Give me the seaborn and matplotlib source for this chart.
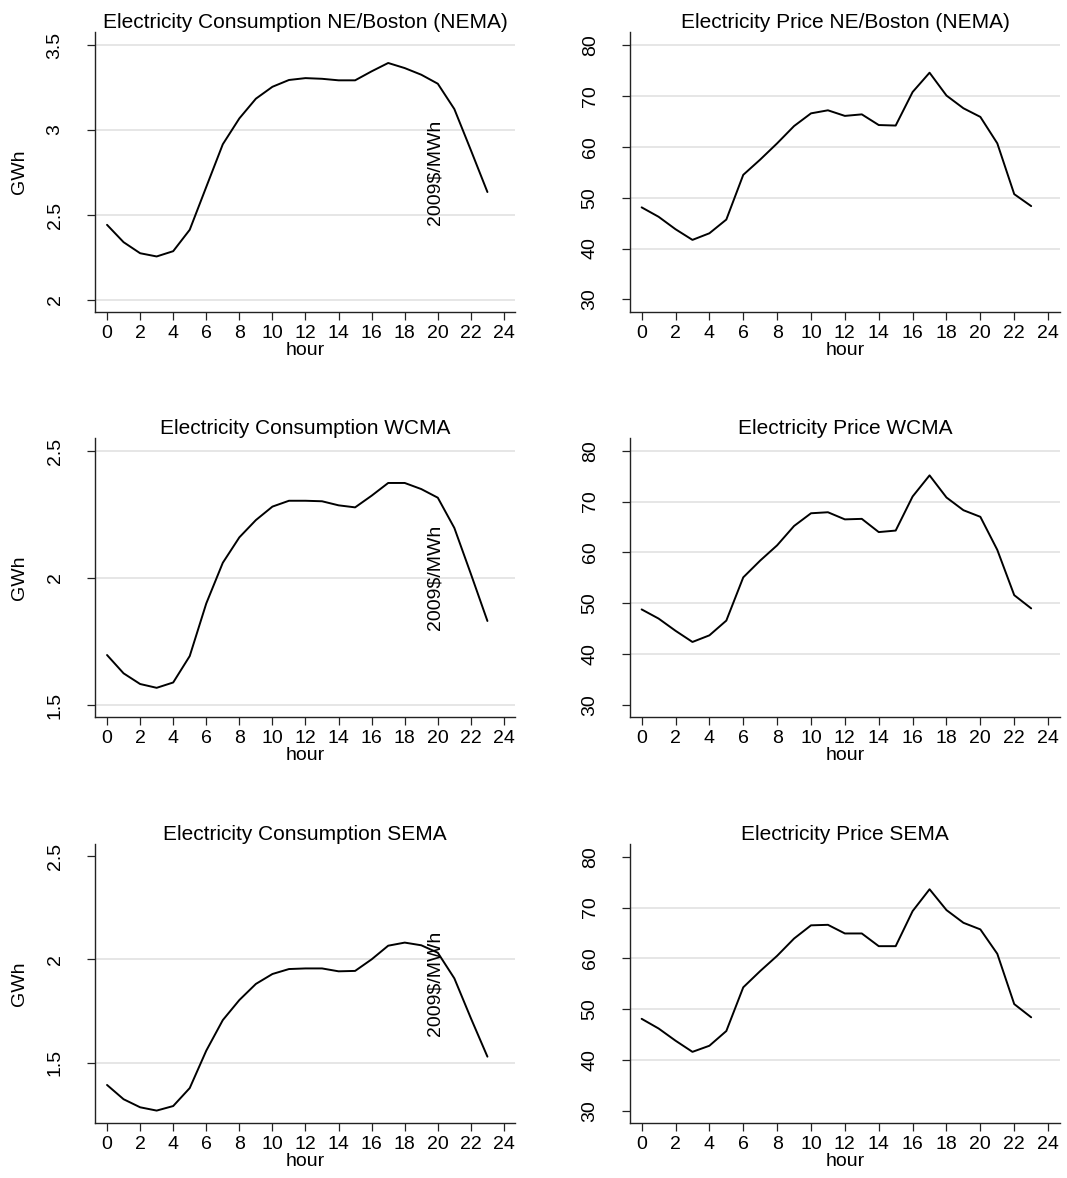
import matplotlib
matplotlib.use("Agg")
import matplotlib.pyplot as plt
import matplotlib.ticker as mticker
import numpy as np
import pandas as pd
import seaborn as sns

# ---------------- data ----------------
hours = list(range(24))

cons_nema = [2.442, 2.340, 2.275, 2.256, 2.287, 2.413, 2.665, 2.916, 3.068, 3.184,
             3.254, 3.294, 3.305, 3.301, 3.292, 3.292, 3.345, 3.394, 3.364, 3.325,
             3.272, 3.123, 2.881, 2.635]
price_nema = [48.1, 46.25, 43.8, 41.7, 43.0, 45.7, 54.5, 57.5, 60.7, 64.1,
              66.6, 67.2, 66.1, 66.4, 64.3, 64.2, 70.8, 74.6, 70.1, 67.6,
              65.9, 60.7, 50.7, 48.35]
cons_wcma = [1.697, 1.625, 1.583, 1.568, 1.589, 1.693, 1.900, 2.060, 2.160, 2.228,
             2.281, 2.304, 2.304, 2.302, 2.286, 2.278, 2.324, 2.374, 2.374, 2.350,
             2.316, 2.197, 2.016, 1.831]
price_wcma = [48.8, 47.0, 44.6, 42.4, 43.7, 46.6, 55.1, 58.4, 61.4, 65.2,
              67.7, 67.9, 66.5, 66.6, 64.0, 64.3, 71.0, 75.15, 70.8, 68.3,
              67.0, 60.5, 51.6, 49.0]
cons_sema = [1.392, 1.323, 1.284, 1.268, 1.290, 1.377, 1.558, 1.706, 1.803, 1.881,
             1.929, 1.953, 1.956, 1.956, 1.942, 1.944, 2.000, 2.066, 2.081, 2.068,
             2.032, 1.908, 1.715, 1.529]
price_sema = [48.1, 46.2, 43.8, 41.6, 42.8, 45.7, 54.3, 57.5, 60.5, 63.9,
              66.5, 66.6, 64.9, 64.9, 62.4, 62.4, 69.3, 73.6, 69.5, 67.0,
              65.7, 60.9, 51.0, 48.4]

titles = ["Electricity Consumption NE/Boston (NEMA)", "Electricity Price NE/Boston (NEMA)",
          "Electricity Consumption WCMA", "Electricity Price WCMA",
          "Electricity Consumption SEMA", "Electricity Price SEMA"]
xticks = [0, 2, 4, 6, 8, 10, 12, 14, 16, 18, 20, 22, 24]
cons_yticks = [[2, 2.5, 3, 3.5], [1.5, 2, 2.5], [1.5, 2, 2.5]]
price_yticks = [30, 40, 50, 60, 70, 80]
cons_grid = [[2, 2.5, 3, 3.5], [1.5, 2, 2.5], [1.5, 2]]
price_grid = [[40, 50, 60, 70, 80], [40, 50, 60, 70, 80], [40, 50, 60, 70]]
xlabel = "hour"
cons_label = "GWh"
price_label = "2009$/MWh"

# ---------------- style ----------------
sns.set_theme(style="white")
plt.rcParams["font.family"] = ["Liberation Sans", "DejaVu Sans"]

fig = plt.figure(figsize=(10.67, 11.78), dpi=100)

col_pos = [(0.0890, 0.3937), (0.5904, 0.4030)]
row_pos = [(0.7351, 0.2377), (0.3913, 0.2369), (0.0467, 0.2368)]
cons_ylims = [(1.929, 3.576), (1.453, 2.551), (1.208, 2.558)]
price_ylims = [(27.5, 82.6), (27.64, 82.5), (27.6, 82.5)]
cons_series = [cons_nema, cons_wcma, cons_sema]
price_series = [price_nema, price_wcma, price_sema]

FS = 14
spine_col = "#222222"


def style_axis(ax, title):
    for s in ["top", "right"]:
        ax.spines[s].set_visible(False)
    for s in ["left", "bottom"]:
        ax.spines[s].set_color(spine_col)
        ax.spines[s].set_linewidth(1.0)
    ax.tick_params(axis="both", which="major", direction="out", length=5.5,
                   width=0.9, color=spine_col, labelsize=FS, labelcolor="black",
                   left=True, bottom=True)
    ax.tick_params(axis="x", pad=4)
    ax.tick_params(axis="y", pad=17, labelrotation=90)
    for lab in ax.get_yticklabels():
        lab.set_va("center")
        lab.set_ha("right")
    ax.set_title(title, fontsize=15, color="black", pad=3)
    ax.set_xlabel(xlabel, fontsize=FS, labelpad=0, color="black")


for r in range(3):
    # consumption
    b, h = row_pos[r]
    l, w = col_pos[0]
    ax = fig.add_axes([l, b, w, h])
    df = pd.DataFrame({"hour": hours, "val": cons_series[r]})
    for g in cons_grid[r]:
        ax.axhline(g, color="#e4e4e4", lw=1.3, zorder=0)
    sns.lineplot(data=df, x="hour", y="val", ax=ax, color="black", lw=1.4)
    ax.set_xlim(-0.73, 24.67)
    ax.set_ylim(*cons_ylims[r])
    ax.set_xticks(xticks)
    ax.set_yticks(cons_yticks[r])
    ax.yaxis.set_major_formatter(mticker.FormatStrFormatter("%g"))
    style_axis(ax, titles[2 * r])
    ax.set_ylabel(cons_label, fontsize=FS, color="black")
    ax.yaxis.label.set_va("center")
    ax.yaxis.set_label_coords(-0.179, 0.5)

    # price
    l, w = col_pos[1]
    ax2 = fig.add_axes([l, b, w, h])
    df2 = pd.DataFrame({"hour": hours, "val": price_series[r]})
    for g in price_grid[r]:
        ax2.axhline(g, color="#e4e4e4", lw=1.3, zorder=0)
    sns.lineplot(data=df2, x="hour", y="val", ax=ax2, color="black", lw=1.4)
    ax2.set_xlim(-0.69, 24.7)
    ax2.set_ylim(*price_ylims[r])
    ax2.set_xticks(xticks)
    ax2.set_yticks(price_yticks)
    ax2.yaxis.set_major_formatter(mticker.FormatStrFormatter("%g"))
    style_axis(ax2, titles[2 * r + 1])
    ax2.set_ylabel(price_label, fontsize=FS, color="black")
    ax2.yaxis.label.set_va("center")
    ax2.yaxis.set_label_coords(-0.453, 0.5)

fig.savefig("out.png", dpi=100, facecolor="white")
